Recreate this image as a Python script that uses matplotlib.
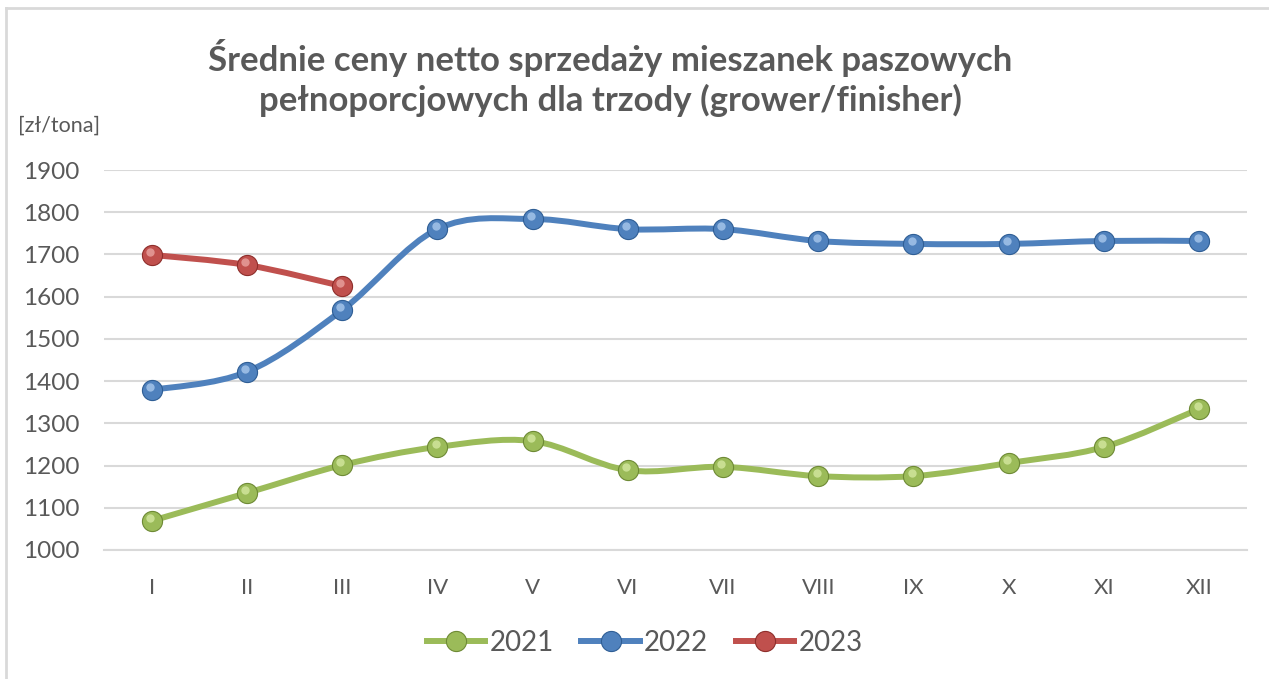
import matplotlib.pyplot as plt
import numpy as np
from matplotlib.path import Path
from matplotlib.patches import PathPatch
from matplotlib.lines import Line2D
from matplotlib.transforms import offset_copy

# Dane
miesiace = ['I', 'II', 'III', 'IV', 'V', 'VI', 'VII', 'VIII', 'IX', 'X', 'XI', 'XII']
ceny_2021 = [1069, 1135, 1201, 1244, 1258, 1189, 1197, 1175, 1175, 1206, 1244, 1334]
ceny_2022 = [1379, 1422, 1568, 1760, 1784, 1760, 1760, 1732, 1725, 1725, 1732, 1732]
ceny_2023 = [1699, 1675, 1625]

kolory = {'2021': '#9BBB59', '2022': '#4F81BD', '2023': '#C0504D'}
krawedzie = {'2021': '#6E8A35', '2022': '#2F5E95', '2023': '#8E2E2B'}
jasne = {'2021': '#D4E8A0', '2022': '#A9C8EC', '2023': '#E9A3A0'}
szary = '#595959'

plt.rcParams['font.family'] = ['Lato', 'DejaVu Sans']


def gladka_sciezka(xs, ys):
    # krzywe Beziera przez punkty (wygładzanie jak w Excelu)
    pts = np.column_stack([xs, ys]).astype(float)
    verts = [pts[0]]
    codes = [Path.MOVETO]
    n = len(pts)
    for i in range(n - 1):
        p0 = pts[i - 1] if i > 0 else pts[i]
        p1 = pts[i]
        p2 = pts[i + 1]
        p3 = pts[i + 2] if i + 2 < n else pts[i + 1]
        c1 = p1 + (p2 - p0) / 6
        c2 = p2 - (p3 - p1) / 6
        verts += [c1, c2, p2]
        codes += [Path.CURVE4] * 3
    return Path(verts, codes)


fig = plt.figure(figsize=(12.69, 6.79), dpi=100)
ax = fig.add_axes([0.082, 0.19, 0.9005, 0.5596])

serie = [('2021', ceny_2021), ('2022', ceny_2022), ('2023', ceny_2023)]
for nazwa, wartosci in serie:
    x = np.arange(len(wartosci))
    ax.add_patch(PathPatch(gladka_sciezka(x, wartosci), facecolor='none',
                           edgecolor=kolory[nazwa], lw=4.3, capstyle='round',
                           zorder=3))
    ax.plot(x, wartosci, 'o', ms=14.5, mfc=kolory[nazwa], mec=krawedzie[nazwa],
            mew=0.8, zorder=4)
    blask = offset_copy(ax.transData, fig=fig, x=-1.2, y=2.0, units='points')
    ax.plot(x, wartosci, 'o', ms=6, mfc=jasne[nazwa], mec='none', alpha=0.8,
            transform=blask, zorder=5)

ax.set_xlim(-0.5, 11.5)
ax.set_ylim(1000, 1900)
ax.set_yticks(range(1000, 2000, 100))
ax.set_xticks(range(12))
ax.set_xticklabels(miesiace)
ax.grid(axis='y', color='#D9D9D9', lw=1.5)
ax.set_axisbelow(True)
for s in ['top', 'right', 'left']:
    ax.spines[s].set_visible(False)
ax.spines['bottom'].set_color('#D9D9D9')
ax.spines['bottom'].set_linewidth(1.5)
ax.tick_params(length=0, labelcolor=szary)
ax.tick_params(axis='y', pad=18, labelsize=17.5)
ax.tick_params(axis='x', pad=20, labelsize=16)

fig.text(0.481, 0.915, 'Średnie ceny netto sprzedaży mieszanek paszowych',
         ha='center', va='center', fontsize=25, fontweight='bold', color=szary)
fig.text(0.481, 0.852, 'pełnoporcjowych dla trzody (grower/finisher)',
         ha='center', va='center', fontsize=25, fontweight='bold', color=szary)
fig.text(0.014, 0.815, '[zł/tona]', ha='left', va='center', fontsize=15.5,
         color=szary)

# ramka wykresu
fig.add_artist(Line2D([0.005, 0.005], [0, 0.988], color='#D9D9D9', lw=2,
                      transform=fig.transFigure))
fig.add_artist(Line2D([0.005, 1], [0.988, 0.988], color='#D9D9D9', lw=2,
                      transform=fig.transFigure))

uchwyty = [Line2D([], [], color=kolory[n], lw=4.3, marker='o', ms=14.5,
                  mfc=kolory[n], mec=krawedzie[n], mew=0.8) for n, _ in serie]
fig.legend(uchwyty, [n for n, _ in serie], loc='center', ncol=3,
           bbox_to_anchor=(0.508, 0.053), frameon=False, fontsize=20,
           labelcolor=szary, handlelength=2.1, handletextpad=0.15,
           columnspacing=1.0)

fig.savefig('out.png', dpi=100)
